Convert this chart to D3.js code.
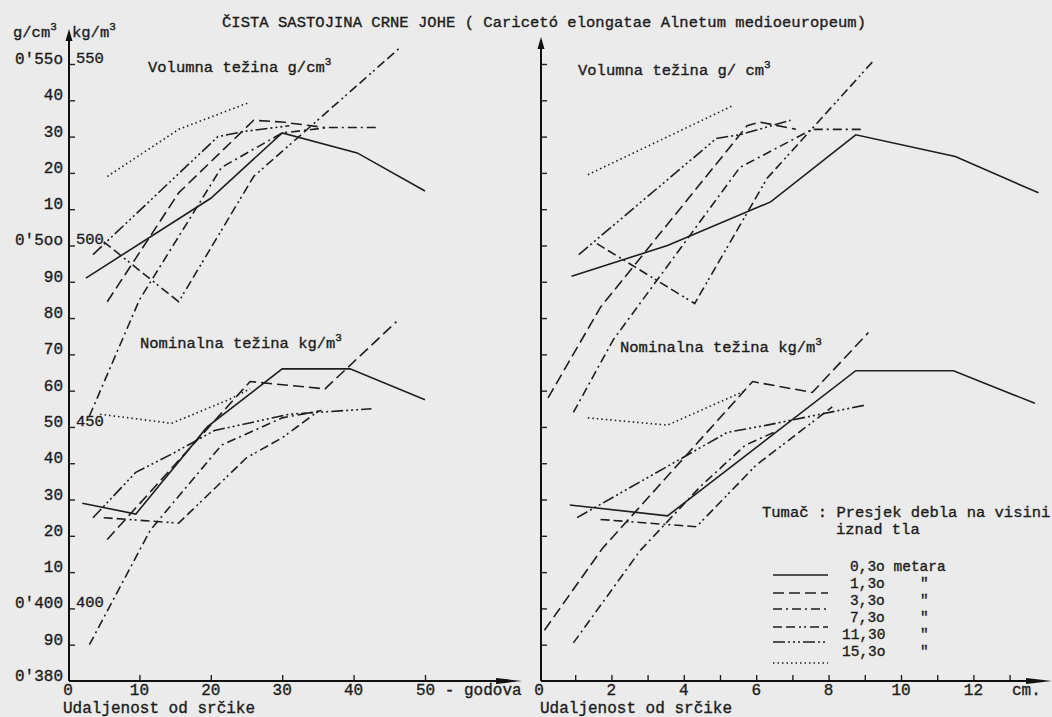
<!DOCTYPE html>
<html>
<head>
<meta charset="utf-8">
<script src="https://cdnjs.cloudflare.com/ajax/libs/d3/7.8.5/d3.min.js"></script>
<style>
body { margin: 0; background: #ebebeb; }
svg { display: block; }
text { font-family: "Liberation Mono", "DejaVu Sans Mono", monospace; fill: #1c1c1c;
       stroke: #1c1c1c; stroke-width: 0.35px; font-size: 15.5px; }
</style>
</head>
<body>
<script>
// visina presjeka (m)
var visine = ["0,3o metara", "1,3o", "3,3o", "7,3o", "11,30", "15,3o"];

// volumna tezina, x = godovi  [godovi, kg/m3]
var volumnaGodovi = [
    [[2.5,491],[20,513],[30,531],[40.5,525.5],[50,515]],
    [[5.5,484.5],[15.5,514.5],[26,534.5],[30,534],[36,532.5]],
    [[3,453],[10,485],[21.5,521.5],[30,531],[36.5,532.5],[43.5,532.5]],
    [[5,501],[15.5,484.5],[26,519],[46.5,554.5]],
    [[3.5,497.5],[21,530],[25,531.5],[31,533]],
    [[5.5,519],[15.5,532],[25.5,539.5]]
];
// nominalna tezina, x = godovi
var nominalnaGodovi = [
    [[2,429],[9.5,426],[19.5,450],[30,466],[39.5,466],[50,457.5]],
    [[5.5,419],[25.5,462.5],[36,460.5],[46,479]],
    [[3,390],[11.5,421.5],[21.5,445],[30,452.5],[35.5,454.5]],
    [[5,425],[15.5,423.5],[25,441.5],[30,447],[35.5,455]],
    [[3.5,425],[9.5,437.5],[14.5,442.5],[20.5,449],[31,453.5],[42.5,455]],
    [[4.5,453.5],[14.5,451],[22.5,457.5],[25.5,460.5]]
];
// volumna tezina, x = cm
var volumnaCm = [
    [[0.9,491.5],[3.55,500],[6.4,512],[8.75,530.5],[11.5,524.5],[13.8,514.5]],
    [[0.25,458],[1.7,483],[5.75,533],[6.1,534],[7.1,532]],
    [[0.95,454],[2.05,474],[5.55,521.5],[7.55,532],[8.95,532]],
    [[1.6,500.5],[4.3,484],[6.3,518.5],[9.25,551]],
    [[1.1,497.5],[4.9,529.5],[5.55,530.5],[6.95,534.5]],
    [[1.35,519.5],[5.35,538.5]]
];
// nominalna tezina, x = cm
var nominalnaCm = [
    [[0.85,428.5],[3.55,425.5],[8.75,465.5],[11.45,465.5],[13.7,456.5]],
    [[0.15,394],[1.75,416.5],[5.9,462.5],[7.55,459.5],[9.1,476]],
    [[0.95,390.5],[2.8,416],[4.45,433.5],[5.7,445],[6.6,449]],
    [[1.7,424.5],[4.35,422.5],[6,439.5],[8.1,455.5]],
    [[1.05,425],[3.7,440],[5.2,448.5],[6.3,450.5],[9,456]],
    [[1.35,452.5],[3.55,450.5],[5.7,460]]
];

var yTicks = d3.range(380, 551, 10);
var gcmLabels = ["0'380","90","0'400","10","20","30","40","50","60","70",
                 "80","90","0'5oo","10","20","30","40","0'55o"];
var kgTicks = [400, 450, 500, 550];
var godoviTicks = [0, 10, 20, 30, 40, 50];
var cmTicks = d3.range(0, 14, 1);
var cmLabels = [0, 2, 4, 6, 8, 10, 12];

var dashes = ["none", "11,5", "9,4,2,4", "9,4,9,4,2,3,2,4", "12,3,2,3,2,3,2,3", "1.5,3"];

var svg = d3.select("body").append("svg")
    .attr("width", 1052)
    .attr("height", 717);

var y = d3.scaleLinear().domain([380, 550]).range([681, 64]);
var xL = d3.scaleLinear().domain([0, 50]).range([68, 425]);
var xR = d3.scaleLinear().domain([0, 13]).range([539, 1009.6]);

function drawLines(g, x, series) {
    var line = d3.line()
        .x(d => x(d[0]))
        .y(d => y(d[1]));
    g.selectAll(null)
        .data(series)
        .enter()
        .append("path")
            .attr("d", line)
            .attr("fill", "none")
            .attr("stroke", "#1e1e1e")
            .attr("stroke-width", 1.6)
            .attr("stroke-dasharray", (d, i) => dashes[i]);
}

function arrow(x, yy, dir, len, half) {
    var p;
    if (dir === "up") p = [[x, yy], [x - half, yy + len], [x + half, yy + len]];
    else p = [[x, yy], [x - len, yy - half], [x - len, yy + half]];
    svg.append("path")
        .attr("d", "M" + p.join("L") + "Z")
        .attr("fill", "#111");
}

function axes(x, x0, xEnd, tickVals) {
    var yAxis = d3.axisRight(y).tickValues(yTicks.slice(1)).tickSize(6).tickFormat("");
    var ya = svg.append("g")
        .attr("transform", "translate(" + x0 + ",0)")
        .call(yAxis);
    ya.select(".domain").remove();
    ya.selectAll("line").attr("stroke", "#222").attr("stroke-width", 1.4);

    var xAxis = d3.axisBottom(x).tickValues(tickVals).tickSize(-6).tickFormat("");
    var xa = svg.append("g")
        .attr("transform", "translate(0," + y(380) + ")")
        .call(xAxis);
    xa.select(".domain").remove();
    xa.selectAll("line").attr("stroke", "#222").attr("stroke-width", 1.4);

    svg.append("line")
        .attr("x1", x0).attr("x2", x0)
        .attr("y1", y(380)).attr("y2", 40)
        .attr("stroke", "#111").attr("stroke-width", 2);
    svg.append("line")
        .attr("x1", x0).attr("x2", xEnd - 10)
        .attr("y1", y(380)).attr("y2", y(380))
        .attr("stroke", "#111").attr("stroke-width", 2);
    arrow(xEnd, y(380), "right", 26, 3);
}

// lijevi panel
var left = svg.append("g");
axes(xL, 69, 522, godoviTicks.slice(1));
arrow(69, 29, "up", 12, 3.5);
drawLines(left, xL, volumnaGodovi);
drawLines(left, xL, nominalnaGodovi);

// desni panel
var right = svg.append("g");
axes(xR, 541, 1052, cmTicks.slice(1));
arrow(541, 37, "up", 12, 3.5);
drawLines(right, xR, volumnaCm);
drawLines(right, xR, nominalnaCm);

// y oznake
svg.selectAll(".gcm")
    .data(yTicks)
    .enter()
    .append("text")
        .attr("x", 63)
        .attr("y", d => y(d))
        .attr("text-anchor", "end")
        .style("font-size", "16px")
        .text((d, i) => gcmLabels[i]);

svg.selectAll(".kg")
    .data(kgTicks)
    .enter()
    .append("text")
        .attr("x", 76)
        .attr("y", d => y(d) - 1)
        .text(d => d);

// x oznake
svg.selectAll(".god")
    .data(godoviTicks)
    .enter()
    .append("text")
        .attr("x", d => xL(d))
        .attr("y", 695)
        .attr("text-anchor", d => d === 50 ? "start" : "middle")
        .attr("dx", d => d === 50 ? -9 : 0)
        .style("font-size", "16px")
        .text(d => d === 50 ? "50 - godova" : d);

svg.selectAll(".cm")
    .data(cmLabels)
    .enter()
    .append("text")
        .attr("x", d => xR(d))
        .attr("y", 695)
        .attr("text-anchor", "middle")
        .style("font-size", "16px")
        .text(d => d);
svg.append("text").attr("x", 1012).attr("y", 695).style("font-size", "16px").text("cm.");

svg.append("text").attr("x", 63).attr("y", 713).style("font-size", "16px").text("Udaljenost od srčike");
svg.append("text").attr("x", 540).attr("y", 713).style("font-size", "16px").text("Udaljenost od srčike");

// naslovi
function sup(x, yy, base, exp) {
    var t = svg.append("text").attr("x", x).attr("y", yy);
    t.append("tspan").text(base);
    t.append("tspan").attr("dy", -7).style("font-size", "11px").text(exp);
    return t;
}

svg.append("text")
    .attr("x", 222).attr("y", 27)
    .attr("textLength", 644)
    .text("ČISTA SASTOJINA CRNE JOHE ( Caricetó elongatae Alnetum medioeuropeum)");

sup(13, 37, "g/cm", "3");
sup(72, 37, "kg/m", "3");
sup(148, 72, "Volumna težina g/cm", "3");
sup(578, 75, "Volumna težina g/ cm", "3");
sup(140, 348, "Nominalna težina kg/m", "3");
sup(620, 352, "Nominalna težina kg/m", "3");

// tumac
svg.append("text").attr("x", 762).attr("y", 517).text("Tumač : Presjek debla na visini");
svg.append("text").attr("x", 836).attr("y", 534).text("iznad tla");

var legY = [575, 593, 609, 627, 642, 663];
var legTextY = [571, 588, 605, 622, 639, 656];
var legTextX = [850, 850, 850, 850, 842, 842];

var legend = svg.append("g").selectAll("g")
    .data(visine)
    .enter()
    .append("g");

legend.append("line")
    .attr("x1", 773).attr("x2", 828)
    .attr("y1", (d, i) => legY[i]).attr("y2", (d, i) => legY[i])
    .attr("stroke", "#1e1e1e")
    .attr("stroke-width", 1.6)
    .attr("stroke-dasharray", (d, i) => dashes[i]);

legend.append("text")
    .attr("x", (d, i) => legTextX[i])
    .attr("y", (d, i) => legTextY[i])
    .style("font-size", "14.5px")
    .text(d => d);

legend.filter((d, i) => i > 0)
    .append("text")
    .attr("x", 920)
    .attr("y", (d, i) => legTextY[i + 1])
    .style("font-size", "14.5px")
    .text('"');
</script>
</body>
</html>
